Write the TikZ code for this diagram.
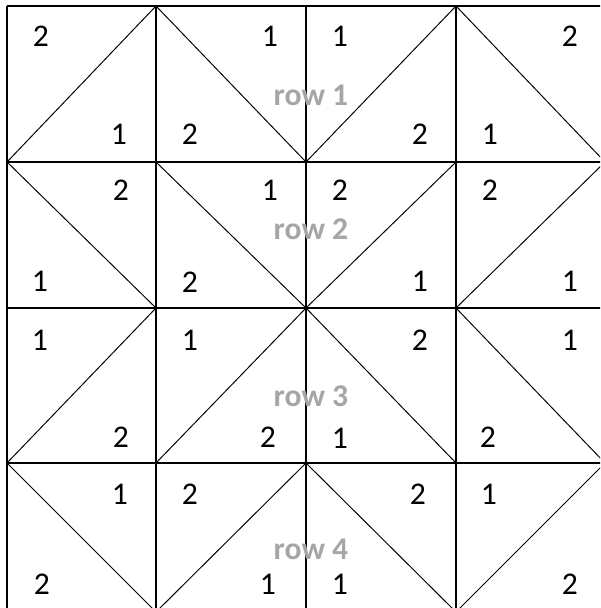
\documentclass[tikz,border=0pt]{standalone}
\usepackage{fontspec}
\setmainfont{Carlito}
\tikzset{
    gridline/.style={line width=1.1pt},
    diagline/.style={line width=0.55pt},
    num/.style={font=\fontsize{18}{21}\selectfont},
    rowlabel/.style={font=\bfseries\fontsize{18}{21}\selectfont, text=gray!70}
}
\begin{document}
\begin{tikzpicture}[x=0.02cm, y=-0.02cm]
    % Page frame
    \clip (0,0) rectangle (600,608);
    \fill[white] (0,0) rectangle (600,608);

    % Square grid
    \foreach \x in {7,156,306,456,608}
        \draw[gridline] (\x,6) -- (\x,612);
    \foreach \y in {6,162,308,463,612}
        \draw[gridline] (7,\y) -- (608,\y);

    % Diagonals, row 1
    \draw[diagline] (7,162) -- (156,6);
    \draw[diagline] (156,6) -- (306,162);
    \draw[diagline] (306,162) -- (456,6);
    \draw[diagline] (456,6) -- (605,162);

    % Diagonals, row 2
    \draw[diagline] (7,162) -- (156,308);
    \draw[diagline] (156,162) -- (306,308);
    \draw[diagline] (306,308) -- (456,162);
    \draw[diagline] (456,308) -- (605,162);

    % Diagonals, row 3
    \draw[diagline] (7,463) -- (156,308);
    \draw[diagline] (156,463) -- (306,308);
    \draw[diagline] (306,308) -- (456,463);
    \draw[diagline] (456,308) -- (605,463);

    % Diagonals, row 4
    \draw[diagline] (7,463) -- (156,612);
    \draw[diagline] (156,612) -- (306,463);
    \draw[diagline] (306,463) -- (456,612);
    \draw[diagline] (456,612) -- (605,463);

    % Row labels
    \node[rowlabel] (row1) at (311,95) {row 1};
    \node[rowlabel] (row2) at (311,229) {row 2};
    \node[rowlabel] (row3) at (311,396) {row 3};
    \node[rowlabel] (row4) at (311,549) {row 4};

    % Numbers, row 1
    \node[num] (a1) at (41,36) {2};
    \node[num] (a2) at (119,134) {1};
    \node[num] (a3) at (190,134) {2};
    \node[num] (a4) at (270,36) {1};
    \node[num] (a5) at (340,36) {1};
    \node[num] (a6) at (420,134) {2};
    \node[num] (a7) at (490,134) {1};
    \node[num] (a8) at (570,36) {2};

    % Numbers, row 2
    \node[num] (b1) at (121,190) {2};
    \node[num] (b2) at (40,281) {1};
    \node[num] (b3) at (270,190) {1};
    \node[num] (b4) at (190,282) {2};
    \node[num] (b5) at (340,190) {2};
    \node[num] (b6) at (420,281) {1};
    \node[num] (b7) at (490,190) {2};
    \node[num] (b8) at (570,281) {1};

    % Numbers, row 3
    \node[num] (c1) at (40,340) {1};
    \node[num] (c2) at (121,437) {2};
    \node[num] (c3) at (190,340) {1};
    \node[num] (c4) at (268,437) {2};
    \node[num] (c5) at (420,340) {2};
    \node[num] (c6) at (340,438) {1};
    \node[num] (c7) at (570,340) {1};
    \node[num] (c8) at (488,437) {2};

    % Numbers, row 4
    \node[num] (d1) at (120,494) {1};
    \node[num] (d2) at (42,584) {2};
    \node[num] (d3) at (190,494) {2};
    \node[num] (d4) at (268,584) {1};
    \node[num] (d5) at (418,494) {2};
    \node[num] (d6) at (340,584) {1};
    \node[num] (d7) at (489,494) {1};
    \node[num] (d8) at (570,584) {2};
\end{tikzpicture}
\end{document}
